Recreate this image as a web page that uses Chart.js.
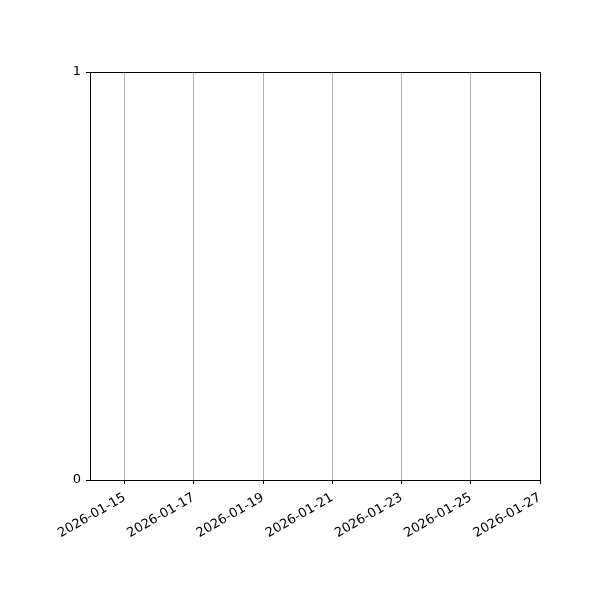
<!DOCTYPE html>
<html>
<head>
<meta charset="utf-8">
<script src="https://cdn.jsdelivr.net/npm/chart.js@4"></script>
<style>
  html, body { margin: 0; padding: 0; background: #fff; }
  #wrap { width: 600px; height: 600px; }
</style>
</head>
<body>
<div id="wrap"><canvas id="chartCanvas" width="600" height="600"></canvas></div>
<script>
// data (the plot is empty: only the axes and date ticks)
const xStart = "2026-01-14";
const xEnd = "2026-01-27";
const xTickDates = ["2026-01-15", "2026-01-17", "2026-01-19", "2026-01-21", "2026-01-23", "2026-01-25", "2026-01-27"];
const yTicks = [0, 1];
const seriesValues = [];

const DAY = 86400000;
const dayOf = (s) => (Date.parse(s + "T00:00:00Z") - Date.parse(xStart + "T00:00:00Z")) / DAY;
const dateOf = (d) => new Date(Date.parse(xStart + "T00:00:00Z") + d * DAY).toISOString().slice(0, 10);

Chart.defaults.font.family = "'DejaVu Sans', sans-serif";
Chart.defaults.font.size = 13;
Chart.defaults.color = "#000";

const frame = {
  id: "frame",
  afterDraw(chart) {
    const { ctx, chartArea: a } = chart;
    ctx.save();
    ctx.strokeStyle = "#000";
    ctx.lineWidth = 1;
    ctx.strokeRect(Math.round(a.left) + 0.5, Math.round(a.top) + 0.5, Math.round(a.right - a.left), Math.round(a.bottom - a.top));
    ctx.restore();
  },
};

const ctx = document.getElementById("chartCanvas").getContext("2d");
new Chart(ctx, {
  type: "line",
  data: {
    datasets: [{ data: seriesValues.map((v) => ({ x: dayOf(v.date), y: v.value })) }],
  },
  options: {
    responsive: false,
    animation: false,
    plugins: { legend: { display: false }, tooltip: { enabled: false } },
    layout: { padding: { top: 72, right: 60, left: 0, bottom: 0 } },
    scales: {
      x: {
        type: "linear",
        min: dayOf(xStart),
        max: dayOf(xEnd),
        afterBuildTicks(scale) {
          scale.ticks = xTickDates.map((d) => ({ value: dayOf(d) }));
        },
        afterFit(scale) { scale.height = 120; },
        ticks: {
          callback: (v) => dateOf(v),
          minRotation: 30,
          maxRotation: 30,
          autoSkip: false,
          padding: 6,
        },
        grid: { color: "#b0b0b0", lineWidth: 1, drawTicks: true, tickLength: 4, tickColor: "#000" },
        border: { color: "#000", width: 1 },
      },
      y: {
        type: "linear",
        min: 0,
        max: 1,
        afterBuildTicks(scale) {
          scale.ticks = yTicks.map((v) => ({ value: v }));
        },
        afterFit(scale) { scale.width = 90; },
        ticks: { padding: 5 },
        grid: { color: "rgba(0,0,0,0)", drawTicks: true, tickLength: 4, tickColor: "#000" },
        border: { color: "#000", width: 1 },
      },
    },
  },
  plugins: [frame],
});
</script>
</body>
</html>
